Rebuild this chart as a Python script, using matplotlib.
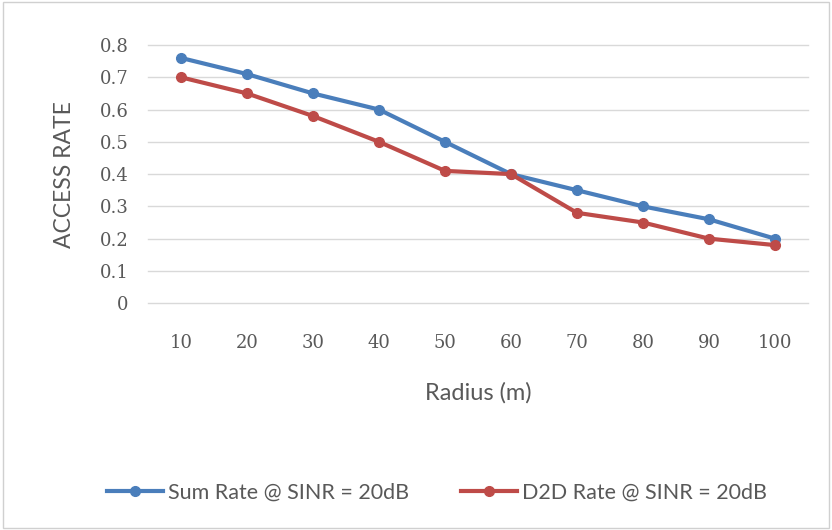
import matplotlib.pyplot as plt
from matplotlib.patches import Rectangle

# datos
radios = ['10', '20', '30', '40', '50', '60', '70', '80', '90', '100']
sum_rate = [0.76, 0.71, 0.65, 0.60, 0.50, 0.40, 0.35, 0.30, 0.26, 0.20]
d2d_rate = [0.70, 0.65, 0.58, 0.50, 0.41, 0.40, 0.28, 0.25, 0.20, 0.18]
y_ticks = [0, 0.1, 0.2, 0.3, 0.4, 0.5, 0.6, 0.7, 0.8]

plt.rcParams['font.family'] = ['Lato', 'DejaVu Sans']
gris = '#595959'

fig = plt.figure(figsize=(8.32, 5.30), dpi=100)
ax = fig.add_axes([0.178, 0.428, 0.793, 0.487])

x = range(len(radios))
ax.plot(x, sum_rate, color='#4A7EBB', lw=3, marker='o', ms=7,
        label='Sum Rate @ SINR = 20dB')
ax.plot(x, d2d_rate, color='#BE4B48', lw=3, marker='o', ms=7,
        label='D2D Rate @ SINR = 20dB')

ax.set_xlim(-0.5, len(radios) - 0.5)
ax.set_ylim(0, 0.8)
ax.set_xticks(list(x))
ax.set_xticklabels(radios)
ax.set_yticks(y_ticks)
ax.set_yticklabels(['0'] + [f'{v:.1f}' for v in y_ticks[1:]])
ax.tick_params(length=0, colors=gris)
for lbl in ax.get_xticklabels() + ax.get_yticklabels():
    lbl.set_family('DejaVu Serif')
    lbl.set_fontsize(13)
ax.tick_params(axis='x', pad=22)
ax.tick_params(axis='y', pad=14)
for s in ax.spines.values():
    s.set_visible(False)
ax.grid(axis='y', color='#D9D9D9', lw=1)
ax.set_axisbelow(True)
for gl in ax.get_ygridlines():
    gl.set_clip_on(False)

ax.set_xlabel('Radius (m)', fontsize=17, color=gris, labelpad=22)
ax.set_ylabel('ACCESS RATE', fontsize=16.5, color=gris, labelpad=18)

fig.legend(loc='center', bbox_to_anchor=(0.525, 0.07), ncol=2, frameon=False,
           fontsize=15.5, labelcolor=gris, columnspacing=2.4, handlelength=2.6,
           handletextpad=0.25)

fig.patches.append(Rectangle((0.004, 0.004), 0.992, 0.992, transform=fig.transFigure,
                             fill=False, edgecolor='#D0D0D0', lw=1))

fig.savefig('out.png', dpi=100)
